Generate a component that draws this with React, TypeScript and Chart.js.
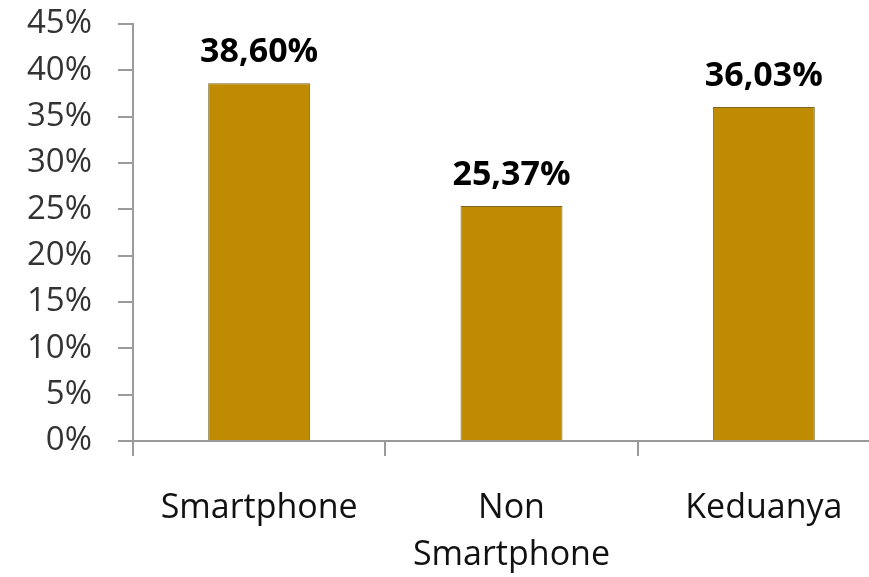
import React, { useEffect, useRef } from "react";
import { Chart, registerables } from "chart.js";

Chart.register(...registerables);

const categories: string[][] = [["Smartphone"], ["Non", "Smartphone"], ["Keduanya"]];
const values: number[] = [38.6, 25.37, 36.03];
const yTicks: number[] = [0, 5, 10, 15, 20, 25, 30, 35, 40, 45];

const FONT = "'Open Sans', 'Noto Sans', sans-serif";

const valueLabels = {
  id: "valueLabels",
  afterDatasetsDraw(chart: any) {
    const ctx = chart.ctx;
    const meta = chart.getDatasetMeta(0);
    ctx.save();
    ctx.font = `bold 34px ${FONT}`;
    ctx.fillStyle = "#000";
    ctx.textAlign = "center";
    ctx.textBaseline = "alphabetic";
    meta.data.forEach((bar: any, i: number) => {
      const txt = values[i].toFixed(2).replace(".", ",") + "%";
      ctx.fillText(txt, bar.x, bar.y - 21);
    });
    ctx.restore();
  },
};

export default function App() {
  const ref = useRef<HTMLCanvasElement>(null);
  useEffect(() => {
    if (!ref.current) return;
    const chart = new Chart(ref.current, {
      type: "bar",
      data: {
        labels: categories as any,
        datasets: [
          {
            data: values,
            backgroundColor: "#BF8B00",
            borderColor: "#7d6626",
            borderWidth: 1,
            barPercentage: 0.404,
            categoryPercentage: 1,
          },
        ],
      },
      options: {
        responsive: false,
        animation: false,
        layout: { padding: { top: 24, right: 10, left: 0, bottom: 0 } },
        plugins: { legend: { display: false }, tooltip: { enabled: false } },
        scales: {
          x: {
            offset: true,
            grid: {
              offset: true,
              drawOnChartArea: false,
              drawTicks: true,
              tickLength: 15,
              color: "#9a9a9a",
              lineWidth: 2,
            },
            border: { display: true, color: "#9a9a9a", width: 2 },
            ticks: {
              color: "#111",
              font: { family: FONT, size: 34, lineHeight: 1.38 },
              padding: 29,
              maxRotation: 0,
              autoSkip: false,
            },
            afterFit: (s: any) => {
              s.height = 136;
              s.paddingLeft = 0;
              s.paddingRight = 0;
            },
          },
          y: {
            min: 0,
            max: 45,
            afterBuildTicks: (s: any) => {
              s.ticks = yTicks.map((v) => ({ value: v }));
            },
            grid: {
              drawOnChartArea: false,
              drawTicks: true,
              tickLength: 15,
              color: "#9a9a9a",
              lineWidth: 2,
            },
            border: { display: true, color: "#9a9a9a", width: 2 },
            ticks: {
              color: "#333",
              font: { family: FONT, size: 33 },
              padding: 26,
              callback: (v: any) => v + "%",
            },
            afterFit: (s: any) => {
              s.width = 133;
              s.paddingTop = 0;
              s.paddingBottom = 0;
            },
          },
        },
      },
      plugins: [valueLabels],
    });
    return () => chart.destroy();
  }, []);
  return (
    <div
      style={{
        position: "fixed",
        left: 0,
        top: 0,
        width: 869,
        height: 577,
        overflow: "hidden",
        background: "#fff",
      }}
    >
      <canvas ref={ref} width={900} height={577} style={{ display: "block" }} />
    </div>
  );
}
